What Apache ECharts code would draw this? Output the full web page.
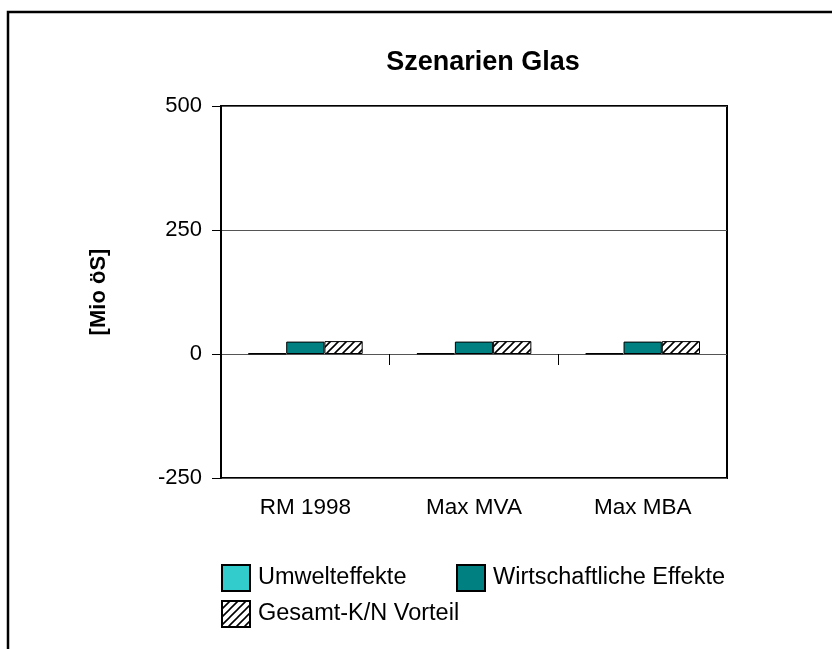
<!DOCTYPE html>
<html>
<head>
<meta charset="utf-8">
<script src="https://cdn.jsdelivr.net/npm/echarts@6/dist/echarts.min.js"></script>
<style>
html,body{margin:0;padding:0;background:#fff;}
#chart{width:832px;height:649px;}
</style>
</head>
<body>
<div id="chart"></div>
<script>
const categories = ['RM 1998', 'Max MVA', 'Max MBA'];
const umwelteffekte = [1, 1, 1];
const wirtschaftlicheEffekte = [25, 25, 25];
const gesamtVorteil = [26, 26, 26];
const yTicks = [-250, 0, 250, 500];

const FONT = '"Liberation Sans", Arial, sans-serif';

// hatch pattern
const pc = document.createElement('canvas');
pc.width = 8; pc.height = 8;
const g = pc.getContext('2d');
g.fillStyle = '#fff'; g.fillRect(0,0,8,8);
g.strokeStyle = '#000'; g.lineWidth = 1.6;
g.beginPath();
g.moveTo(-1,9); g.lineTo(9,-1);
g.moveTo(-1,1); g.lineTo(1,-1);
g.moveTo(7,9); g.lineTo(9,7);
g.stroke();
const hatch = {image: pc, repeat: 'repeat'};

const chart = echarts.init(document.getElementById('chart'), null, {renderer: 'canvas'});

const legendText = {fontFamily: FONT, fontSize: 23.5, color: '#000', padding: [0,0,0,3]};
const legendBase = {icon: 'rect', itemWidth: 28, itemHeight: 26, padding: 0, textStyle: legendText, selectedMode: false};

chart.setOption({
  animation: false,
  backgroundColor: '#fff',
  textStyle: {fontFamily: FONT},
  title: {
    text: 'Szenarien Glas',
    left: 478, top: 44, textAlign: 'center',
    textStyle: {fontFamily: FONT, fontSize: 27, fontWeight: 'bold', color: '#000'}
  },
  graphic: [{
    type: 'rect', silent: true,
    shape: {x: 8, y: 12, width: 1000, height: 1000},
    style: {fill: 'none', stroke: '#000', lineWidth: 2.5}
  }],
  legend: [
    Object.assign({data: ['Umwelteffekte'], left: 221, top: 564}, legendBase),
    Object.assign({data: ['Wirtschaftliche Effekte'], left: 456, top: 564}, legendBase),
    Object.assign({data: ['Gesamt-K/N Vorteil'], left: 221, top: 600}, legendBase)
  ],
  grid: {
    left: 221, top: 106, width: 506, height: 372,
    show: true, borderColor: '#000', borderWidth: 2, backgroundColor: 'transparent'
  },
  xAxis: [
    {
      type: 'category', data: categories, position: 'bottom',
      axisLine: {show: false, onZero: false},
      axisTick: {show: false},
      axisLabel: {fontFamily: FONT, fontSize: 22.5, color: '#000', margin: 18}
    },
    {
      type: 'category', data: categories, position: 'bottom',
      axisLine: {show: true, onZero: true, lineStyle: {color: '#555', width: 1}},
      axisTick: {show: true, length: 11, lineStyle: {color: '#000', width: 1}},
      axisLabel: {show: false}
    }
  ],
  yAxis: {
    type: 'value', min: yTicks[0], max: yTicks[yTicks.length-1], interval: 250,
    name: '[Mio öS]', nameLocation: 'middle', nameGap: 111,
    nameTextStyle: {fontFamily: FONT, fontSize: 22, fontWeight: 'bold', color: '#000'},
    axisLine: {show: true, lineStyle: {color: '#000', width: 2}},
    axisTick: {show: true, length: 9, lineStyle: {color: '#000', width: 1}},
    axisLabel: {fontFamily: FONT, fontSize: 22, color: '#000', margin: 19},
    splitLine: {show: true, lineStyle: {color: '#555', width: 1}}
  },
  series: [
    {name: 'Umwelteffekte', type: 'bar', xAxisIndex: 0, data: umwelteffekte,
     barGap: '0%', barCategoryGap: '32%',
     itemStyle: {color: '#33CCCC', borderColor: '#000', borderWidth: 1.5}},
    {name: 'Wirtschaftliche Effekte', type: 'bar', xAxisIndex: 0, data: wirtschaftlicheEffekte,
     barGap: '0%', barCategoryGap: '32%',
     itemStyle: {color: '#008080', borderColor: '#000', borderWidth: 1}},
    {name: 'Gesamt-K/N Vorteil', type: 'bar', xAxisIndex: 0, data: gesamtVorteil,
     barGap: '0%', barCategoryGap: '32%',
     itemStyle: {color: hatch, borderColor: '#000', borderWidth: 1}}
  ]
});
</script>
</body>
</html>
